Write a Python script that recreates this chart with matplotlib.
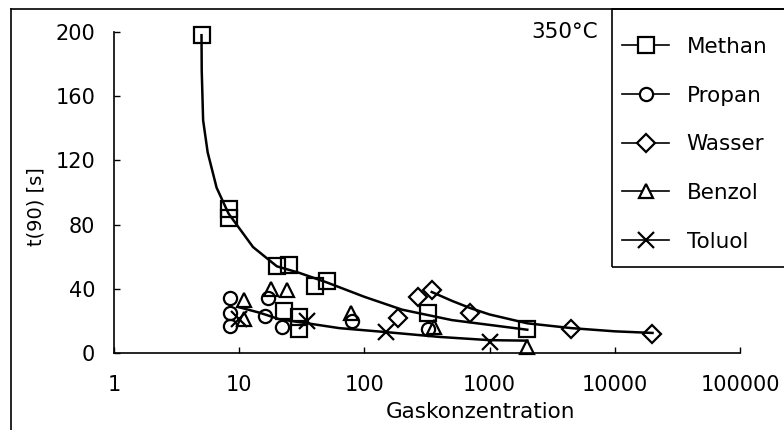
import matplotlib.pyplot as plt
from matplotlib.lines import Line2D
from matplotlib.patches import Rectangle
from matplotlib.ticker import NullLocator

plt.rcParams['font.family'] = 'DejaVu Sans'

# Messpunkte
methan_x = [5, 8.3, 8.3, 20, 25, 40, 50, 23, 30, 30, 320, 2000]
methan_y = [198, 90, 84, 54, 55, 42, 45, 26, 22.5, 15, 25, 15]
propan_x = [8.5, 8.5, 8.5, 17, 16, 22, 80, 320]
propan_y = [34, 25, 17, 34, 23, 16, 20, 15]
wasser_x = [185, 270, 345, 700, 4500, 20000]
wasser_y = [22, 35, 39, 25, 15, 12]
benzol_x = [11, 11, 18, 24, 78, 360, 2000]
benzol_y = [33, 21, 40, 39, 25, 16, 4]
toluol_x = [10, 35, 150, 1000]
toluol_y = [21, 20, 13, 7]

methan_fit_x = [5.0, 5.02, 5.15, 5.6, 6.6, 8.2, 12.9, 20, 30, 50, 100, 200, 500, 1000, 2000]
methan_fit_y = [198, 176, 145, 125, 103, 87, 66, 54, 50, 44, 35, 27, 20.5, 17.5, 14.5]
wasser_fit_x = [345, 500, 700, 1000, 2000, 4500, 10000, 20000]
wasser_fit_y = [38, 32.5, 28, 24, 18.5, 15.5, 13.5, 12.5]
toluol_fit_x = [10, 14.7, 21, 35, 63, 150, 400, 1000, 2000]
toluol_fit_y = [28.5, 25, 21, 18.5, 15.5, 13, 10, 8, 7.7]

x_ticks = [1, 10, 100, 1000, 10000, 100000]
x_ticklabels = ['1', '10', '100', '1000', '10000', '100000']
y_ticks = [0, 40, 80, 120, 160, 200]

fig = plt.figure(figsize=(7.84, 4.3), dpi=100)
ax = fig.add_axes([114 / 784, 1 - 353 / 430, 626 / 784, 321 / 430])

for fx, fy in [(methan_fit_x, methan_fit_y), (wasser_fit_x, wasser_fit_y), (toluol_fit_x, toluol_fit_y)]:
    ax.plot(fx, fy, color='black', lw=1.8)

serien = [
    ('Methan', methan_x, methan_y, 's', 11),
    ('Propan', propan_x, propan_y, 'o', 9.5),
    ('Wasser', wasser_x, wasser_y, 'D', 9),
    ('Benzol', benzol_x, benzol_y, '^', 10),
    ('Toluol', toluol_x, toluol_y, 'x', 12),
]
handles = []
for name, xs, ys, m, ms in serien:
    ax.plot(xs, ys, ls='none', marker=m, ms=ms, mfc='none', mec='black', mew=1.6, clip_on=False)
    handles.append(Line2D([], [], color='black', lw=1.2, marker=m, ms=ms, mfc='white',
                          mec='black', mew=1.6, label=name))

ax.set_xscale('log')
ax.set_xlim(1, 100000)
ax.set_ylim(0, 200)
ax.set_xticks(x_ticks)
ax.set_xticklabels(x_ticklabels)
ax.xaxis.set_minor_locator(NullLocator())
ax.set_yticks(y_ticks)
ax.tick_params(direction='in', length=4.5, width=1, labelsize=15)
ax.tick_params(axis='x', pad=16)
ax.tick_params(axis='y', pad=13.5)
for s in ['top', 'right']:
    ax.spines[s].set_visible(False)
for s in ['left', 'bottom']:
    ax.spines[s].set_linewidth(1.2)

ax.set_xlabel('Gaskonzentration', fontsize=15.5)
ax.xaxis.set_label_coords(0.585, -0.153)
ax.set_ylabel('t(90) [s]', fontsize=14)
ax.yaxis.set_label_coords(-0.11, 0.455)

fig.text(598 / 784, 1 - 32 / 430, '350°C', ha='right', va='center', fontsize=15.5)

fig.legend(handles=handles, loc='upper left', bbox_to_anchor=(622 / 784, 1 - 37 / 430),
           frameon=False, fontsize=15.5, handlelength=2.2, handletextpad=0.8,
           labelspacing=1.33, borderpad=0, borderaxespad=0)

# Rahmen um Legende und Bild
fig.add_artist(Rectangle((612 / 784, 1 - 267 / 430), 0.3, 258 / 430, transform=fig.transFigure,
                         fill=False, ec='black', lw=1.2))
fig.add_artist(Line2D([11 / 784, 11 / 784], [0, 1 - 9 / 430], transform=fig.transFigure,
                      color='black', lw=1.2))
fig.add_artist(Line2D([11 / 784, 1], [1 - 9 / 430, 1 - 9 / 430], transform=fig.transFigure,
                      color='black', lw=1.2))

fig.savefig('out.png', dpi=100)
